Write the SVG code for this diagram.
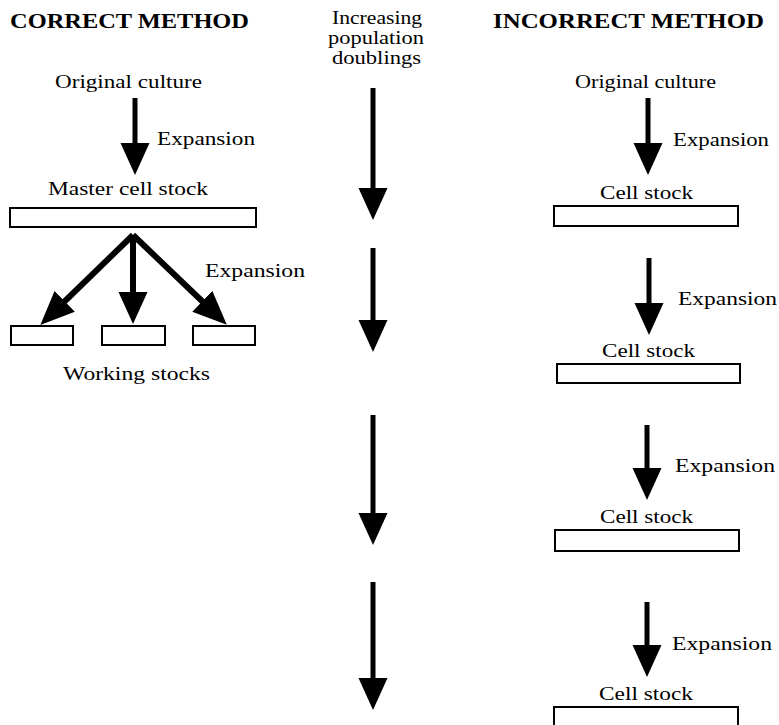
<svg xmlns="http://www.w3.org/2000/svg" width="779" height="725" viewBox="0 0 779 725">
<style>
text{font-family:"Liberation Serif","Times New Roman",serif;font-size:19.5px;fill:#000}
.title{font-size:20.5px;font-weight:bold}
.box{fill:#fff;stroke:#000;stroke-width:2}
.shaft{stroke:#000;stroke-width:5;fill:none;marker-end:url(#head)}
.branch{stroke:#000;stroke-width:6;fill:none;marker-end:url(#head2)}
</style>
<defs>
<marker id="head" markerUnits="userSpaceOnUse" markerWidth="34" markerHeight="30" refX="1" refY="14.5" orient="auto" viewBox="0 0 34 30">
<path d="M0,0 L32,14.5 L0,29 Z" fill="#000"/>
</marker>
<marker id="head2" markerUnits="userSpaceOnUse" markerWidth="36" markerHeight="30" refX="1" refY="14.5" orient="auto" viewBox="0 0 36 30">
<path d="M0,0 L34,14.5 L0,29 Z" fill="#000"/>
</marker>
</defs>
<rect width="779" height="725" fill="#fff"/>

<g id="titles">
<text class="title" x="10" y="28" textLength="239" lengthAdjust="spacingAndGlyphs">CORRECT METHOD</text>
<text class="title" x="493" y="28" textLength="271" lengthAdjust="spacingAndGlyphs">INCORRECT METHOD</text>
<text x="332" y="24" textLength="90" lengthAdjust="spacingAndGlyphs">Increasing</text>
<text x="328" y="44" textLength="96" lengthAdjust="spacingAndGlyphs">population</text>
<text x="332" y="64" textLength="89" lengthAdjust="spacingAndGlyphs">doublings</text>
</g>

<g id="connectors">
<!-- left column -->
<line class="shaft" x1="135" y1="98" x2="135" y2="144"/>
<line class="branch" x1="133" y1="235" x2="64" y2="302"/>
<line class="shaft" x1="133" y1="235" x2="133" y2="293" style="stroke-width:6"/>
<line class="branch" x1="133" y1="235" x2="203" y2="302"/>
<!-- middle column -->
<line class="shaft" x1="373" y1="88" x2="373" y2="189"/>
<line class="shaft" x1="373" y1="248" x2="373" y2="321"/>
<line class="shaft" x1="373" y1="415" x2="373" y2="514"/>
<line class="shaft" x1="373" y1="582" x2="373" y2="679"/>
<!-- right column -->
<line class="shaft" x1="648" y1="98" x2="648" y2="144"/>
<line class="shaft" x1="649" y1="258" x2="649" y2="304"/>
<line class="shaft" x1="647" y1="425" x2="647" y2="469"/>
<line class="shaft" x1="647" y1="602" x2="647" y2="646"/>
</g>

<g id="left-original">
<text x="55" y="88" textLength="147" lengthAdjust="spacingAndGlyphs">Original culture</text>
</g>
<g id="left-expansion1">
<text x="157" y="145" textLength="98" lengthAdjust="spacingAndGlyphs">Expansion</text>
</g>
<g id="master-stock">
<text x="48" y="195" textLength="160" lengthAdjust="spacingAndGlyphs">Master cell stock</text>
<rect class="box" x="10" y="208" width="246" height="19"/>
</g>
<g id="left-expansion2">
<text x="205" y="277" textLength="100" lengthAdjust="spacingAndGlyphs">Expansion</text>
</g>
<g id="working-stocks">
<rect class="box" x="11" y="326" width="62" height="19"/>
<rect class="box" x="102" y="326" width="63" height="19"/>
<rect class="box" x="193" y="326" width="62" height="19"/>
<text x="63" y="380" textLength="147" lengthAdjust="spacingAndGlyphs">Working stocks</text>
</g>

<g id="right-original">
<text x="575" y="88" textLength="141" lengthAdjust="spacingAndGlyphs">Original culture</text>
</g>
<g id="right-stock1">
<text x="673" y="146" textLength="96" lengthAdjust="spacingAndGlyphs">Expansion</text>
<text x="600" y="199" textLength="93" lengthAdjust="spacingAndGlyphs">Cell stock</text>
<rect class="box" x="554" y="206" width="184" height="20"/>
</g>
<g id="right-stock2">
<text x="678" y="305" textLength="99" lengthAdjust="spacingAndGlyphs">Expansion</text>
<text x="602" y="357" textLength="93" lengthAdjust="spacingAndGlyphs">Cell stock</text>
<rect class="box" x="557" y="364" width="183" height="19"/>
</g>
<g id="right-stock3">
<text x="675" y="472" textLength="100" lengthAdjust="spacingAndGlyphs">Expansion</text>
<text x="600" y="523" textLength="93" lengthAdjust="spacingAndGlyphs">Cell stock</text>
<rect class="box" x="555" y="530" width="184" height="21"/>
</g>
<g id="right-stock4">
<text x="672" y="650" textLength="100" lengthAdjust="spacingAndGlyphs">Expansion</text>
<text x="599" y="700" textLength="94" lengthAdjust="spacingAndGlyphs">Cell stock</text>
<rect class="box" x="554" y="707" width="184" height="24"/>
</g>
</svg>
